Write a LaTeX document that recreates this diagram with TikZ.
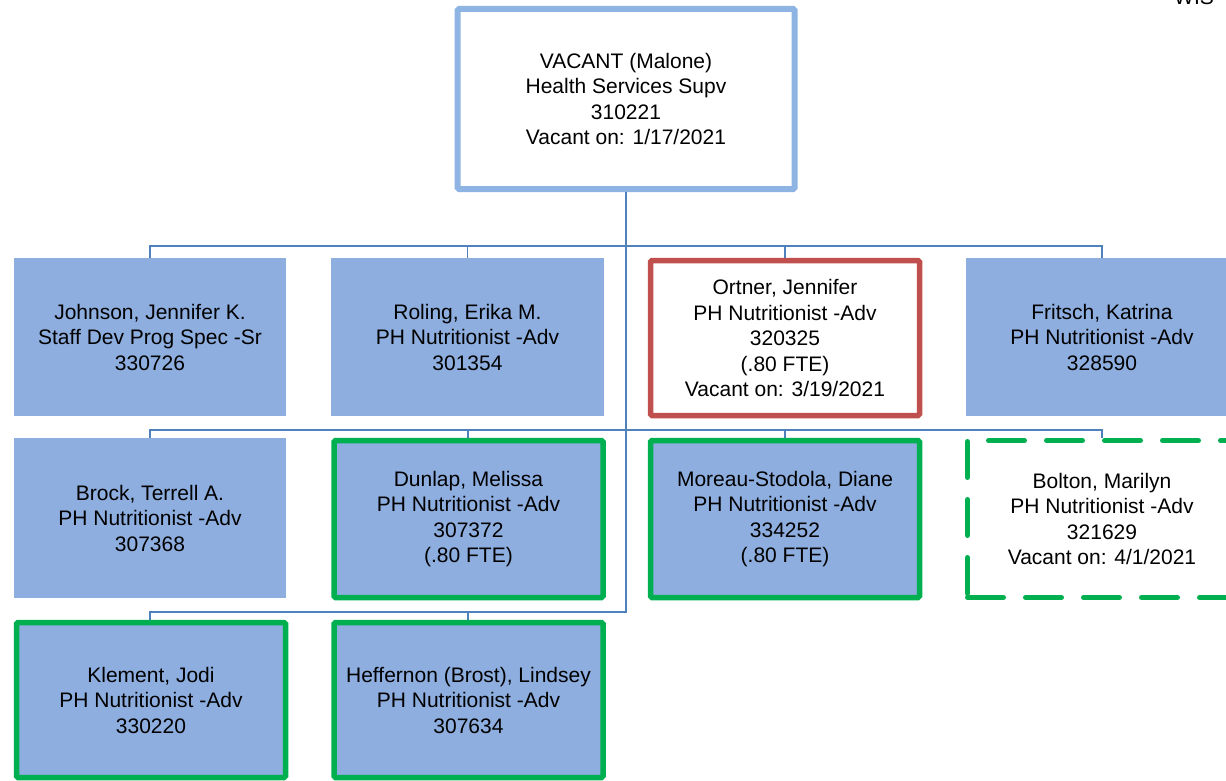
\documentclass[tikz,border=0pt]{standalone}
\usepackage{fontspec}
\setmainfont{Liberation Sans}
\definecolor{boxblue}{RGB}{141,174,223}
\definecolor{topblue}{RGB}{142,180,227}
\definecolor{connblue}{RGB}{79,129,189}
\definecolor{boxgreen}{RGB}{0,176,80}
\definecolor{boxred}{RGB}{192,80,77}
\tikzset{
  txt/.style={align=center, inner sep=0pt, font=\fontsize{21}{25.5}\selectfont},
  person/.style={txt, rectangle, fill=boxblue, minimum width=272pt, minimum height=158pt},
  greenbox/.style={person, draw=boxgreen, line width=5.5pt, rounded corners=1.5pt, minimum width=269pt, minimum height=157pt},
  redbox/.style={person, fill=white, draw=boxred, line width=5.5pt, rounded corners=1.5pt, minimum width=269pt, minimum height=155pt},
  dashbox/.style={person, fill=white, draw=boxgreen, line width=5pt, dash pattern=on 36pt off 22pt, line cap=round, minimum width=269pt, minimum height=157pt},
  topbox/.style={txt, rectangle, fill=white, draw=topblue, line width=6pt, rounded corners=1.5pt, minimum width=337pt, minimum height=180pt},
  conn/.style={draw=connblue, line width=1.8pt}
}
\begin{document}
\begin{tikzpicture}[x=1pt,y=-1pt]
\useasboundingbox (0,0) rectangle (1226,781);
\clip (0,0) rectangle (1226,781);
\fill[white] (0,0) rectangle (1226,781);
% nodes
\node[topbox] (top) at (626,99) {VACANT (Malone)\\Health Services Supv\\310221\\Vacant on: 1/17/2021};
\node[txt, anchor=base] (wis) at (1194,5) {WIS};
\coordinate (bus1) at (626,246);
\coordinate (bus2) at (626,430);
\coordinate (bus3) at (626,612);
% connectors
\draw[conn] (top.south) -- (bus3) -| (150,620);
\draw[conn] (150,258) |- (bus1) -| (1102,258);
\draw[conn] (150,438) |- (bus2) -| (1102,438);
\draw[conn] (467.5,258) -- (467.5,246);
\draw[conn] (785,258) -- (785,246);
\draw[conn] (468,438) -- (468,430);
\draw[conn] (785,438) -- (785,430);
\draw[conn] (468,620) -- (468,612);
% row 1
\node[person] (john) at (150,337) {Johnson, Jennifer K.\\Staff Dev Prog Spec -Sr\\330726};
\node[person, minimum width=273pt] (rol) at (467.5,337) {Roling, Erika M.\\PH Nutritionist -Adv\\301354};
\node[redbox] (ort) at (785,338) {Ortner, Jennifer\\PH Nutritionist -Adv\\320325\\(.80 FTE)\\Vacant on: 3/19/2021};
\node[person] (frit) at (1102,337) {Fritsch, Katrina\\PH Nutritionist -Adv\\328590};
% row 2
\node[person, minimum height=160pt] (brock) at (150,518) {Brock, Terrell A.\\PH Nutritionist -Adv\\307368};
\node[greenbox] (dun) at (468.5,519) {Dunlap, Melissa\\PH Nutritionist -Adv\\307372\\(.80 FTE)};
\node[greenbox] (mor) at (785,519) {Moreau-Stodola, Diane\\PH Nutritionist -Adv\\334252\\(.80 FTE)};
\node[dashbox] (bolt) at (1102,519) {Bolton, Marilyn\\PH Nutritionist -Adv\\321629\\Vacant on: 4/1/2021};
% row 3
\node[greenbox, minimum height=155pt] (klem) at (151,700) {Klement, Jodi\\PH Nutritionist -Adv\\330220};
\node[greenbox, minimum height=155pt] (hef) at (468.5,700) {Heffernon (Brost), Lindsey\\PH Nutritionist -Adv\\307634};
\end{tikzpicture}
\end{document}
